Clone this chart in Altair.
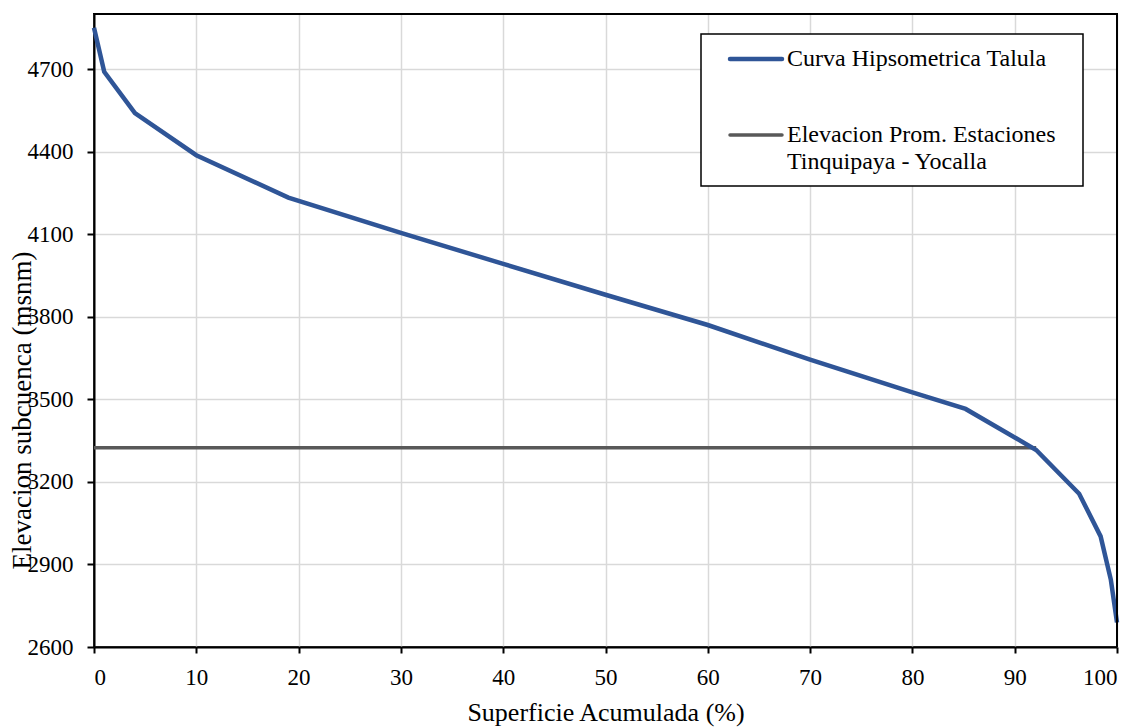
import altair as alt
import pandas as pd

# Hypsometric curve
superficie = [0, 1.0, 4.0, 10.0, 19.0, 30.0, 40.0, 50.0, 60.0, 70.0, 80.0, 85.2, 92.1, 96.3, 98.4, 99.4, 100.0]
elevacion = [4850, 4690, 4540, 4387, 4233, 4105, 3992, 3880, 3770, 3644, 3525, 3465, 3316, 3157, 3002, 2844, 2689]

# Average station elevation line
prom_x = [0, 92.1]
prom_y = [3324, 3324]

legend_lines = ["Curva Hipsometrica Talula", "Elevacion Prom. Estaciones", "Tinquipaya - Yocalla"]

x_ticks = list(range(0, 101, 10))
y_ticks = list(range(2600, 4701, 300))

FONT = "Liberation Serif"
BLUE = "#2F5597"
GRAY = "#595959"

curve_df = pd.DataFrame({"x": superficie, "y": elevacion})
prom_df = pd.DataFrame({"x": prom_x, "y": prom_y})

x_scale = alt.Scale(domain=[0, 100], nice=False, zero=False)
y_scale = alt.Scale(domain=[2600, 4900], nice=False, zero=False)

x_axis = alt.Axis(
    title="Superficie Acumulada (%)", values=x_ticks, format="d",
    grid=True, gridColor="#d9d9d9", gridWidth=1.5,
    domain=True, domainColor="black", domainWidth=2,
    ticks=True, tickColor="black", tickWidth=2, tickSize=6,
    labelFont=FONT, labelFontSize=23, labelColor="black", labelPadding=13,
    titleFont=FONT, titleFontSize=26, titleFontWeight="normal", titleColor="black", titlePadding=10,
)
y_axis = alt.Axis(
    title="Elevacion subcuenca (msnm)", values=y_ticks, format="d",
    grid=True, gridColor="#d9d9d9", gridWidth=1.5,
    domain=True, domainColor="black", domainWidth=2,
    ticks=True, tickColor="black", tickWidth=2, tickSize=7,
    labelFont=FONT, labelFontSize=23, labelColor="black", labelPadding=14,
    titleFont=FONT, titleFontSize=27, titleFontWeight="normal", titleColor="black",
    titleAngle=270, titleAlign="center", titleBaseline="middle", titleX=-72, titleY=396,
)

prom = alt.Chart(prom_df).mark_line(color=GRAY, strokeWidth=3.5).encode(
    x=alt.X("x:Q", scale=x_scale, axis=x_axis),
    y=alt.Y("y:Q", scale=y_scale, axis=y_axis),
)
curve = alt.Chart(curve_df).mark_line(color=BLUE, strokeWidth=4.5).encode(
    x=alt.X("x:Q", scale=x_scale, axis=x_axis),
    y=alt.Y("y:Q", scale=y_scale, axis=y_axis),
)

one = pd.DataFrame({"a": [0]})
frame_top = alt.Chart(one).mark_rule(color="black", strokeWidth=2).encode(
    x=alt.value(0), x2=alt.value(1023), y=alt.value(0)
)
frame_right = alt.Chart(one).mark_rule(color="black", strokeWidth=2).encode(
    x=alt.value(1023), y=alt.value(0), y2=alt.value(633)
)
legend_box = alt.Chart(one).mark_rect(fill="white", stroke="black", strokeWidth=1.5).encode(
    x=alt.value(607), x2=alt.value(989), y=alt.value(20), y2=alt.value(172)
)
leg_blue = alt.Chart(one).mark_rule(color=BLUE, strokeWidth=4.5, strokeCap="round").encode(
    x=alt.value(636), x2=alt.value(688), y=alt.value(45)
)
leg_gray = alt.Chart(one).mark_rule(color=GRAY, strokeWidth=3.5, strokeCap="round").encode(
    x=alt.value(636), x2=alt.value(688), y=alt.value(121)
)
leg_text_df = pd.DataFrame({"t": legend_lines, "yy": [45, 121, 148]})
leg_text = alt.Chart(leg_text_df).mark_text(
    align="left", baseline="middle", font=FONT, fontSize=24, color="black"
).encode(
    x=alt.value(693), y=alt.Y("yy:Q", scale=None), text="t:N"
)

chart = alt.layer(prom, curve, frame_top, frame_right, legend_box, leg_blue, leg_gray, leg_text).properties(
    width=1023, height=633,
    background="white",
    autosize=alt.AutoSizeParams(type="none"),
    padding={"left": 86, "top": 6, "right": 10, "bottom": 90},
).configure_view(
    stroke="black", strokeWidth=2
)

chart.save("out.html", embed_options={"renderer": "svg", "actions": False})
